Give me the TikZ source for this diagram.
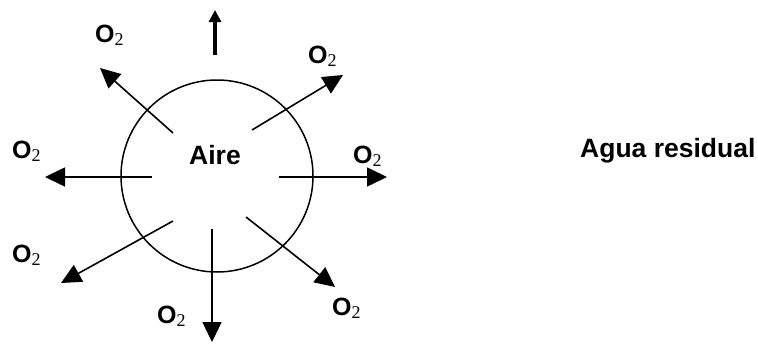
\documentclass[tikz,border=0pt]{standalone}
\usepackage{fontspec}
\setmainfont{Liberation Sans}
\newfontfamily\digitfont{Liberation Serif}
\usetikzlibrary{arrows.meta}
\newcommand{\oxy}{{\bfseries O}{\digitfont\fontsize{18}{18}\selectfont\raisebox{-3pt}{2}}}
\tikzset{
  flow/.style={line width=1.6pt,-{Triangle[length=20pt,width=19pt]}},
  lift/.style={line width=3.6pt,-{Triangle[length=12pt,width=12pt]}},
  gas/.style={anchor=base west,inner sep=0pt,font=\fontsize{25}{25}\selectfont},
  tag/.style={inner sep=0pt,font=\fontsize{26.5}{26.5}\selectfont\bfseries}
}
\begin{document}
\begin{tikzpicture}[x=1pt,y=-1pt]
\useasboundingbox (0,0) rectangle (758,343);
% bubble
\node[draw,circle,line width=1.5pt,minimum size=192pt,inner sep=0pt] (bubble) at (217,176) {};
\node[tag,anchor=base] (aire) at (215,164) {Aire};
\node[tag,anchor=base west] (agua) at (580,157) {Agua residual};
% arrow end points
\coordinate (s1) at (173,133); \coordinate (e1) at (100,68);
\coordinate (s2) at (252,130); \coordinate (e2) at (343,75);
\coordinate (s3) at (152,177); \coordinate (e3) at (45,177);
\coordinate (s4) at (279,177); \coordinate (e4) at (387,177);
\coordinate (s5) at (173,221); \coordinate (e5) at (61,283);
\coordinate (s6) at (212,229); \coordinate (e6) at (212,342);
\coordinate (s7) at (246,217); \coordinate (e7) at (335,287);
\coordinate (s0) at (215,55);  \coordinate (e0) at (215,10);
\foreach \i in {1,...,7} \draw[flow] (s\i) -- (e\i);
\draw[lift] (s0) -- (e0);
% oxygen labels
\node[gas] (o1) at (95,42)  {\oxy};
\node[gas] (o2) at (308,63) {\oxy};
\node[gas] (o3) at (12,158) {\oxy};
\node[gas] (o4) at (353,163) {\oxy};
\node[gas] (o5) at (12,262) {\oxy};
\node[gas] (o6) at (157,323) {\oxy};
\node[gas] (o7) at (332,315) {\oxy};
\end{tikzpicture}
\end{document}
